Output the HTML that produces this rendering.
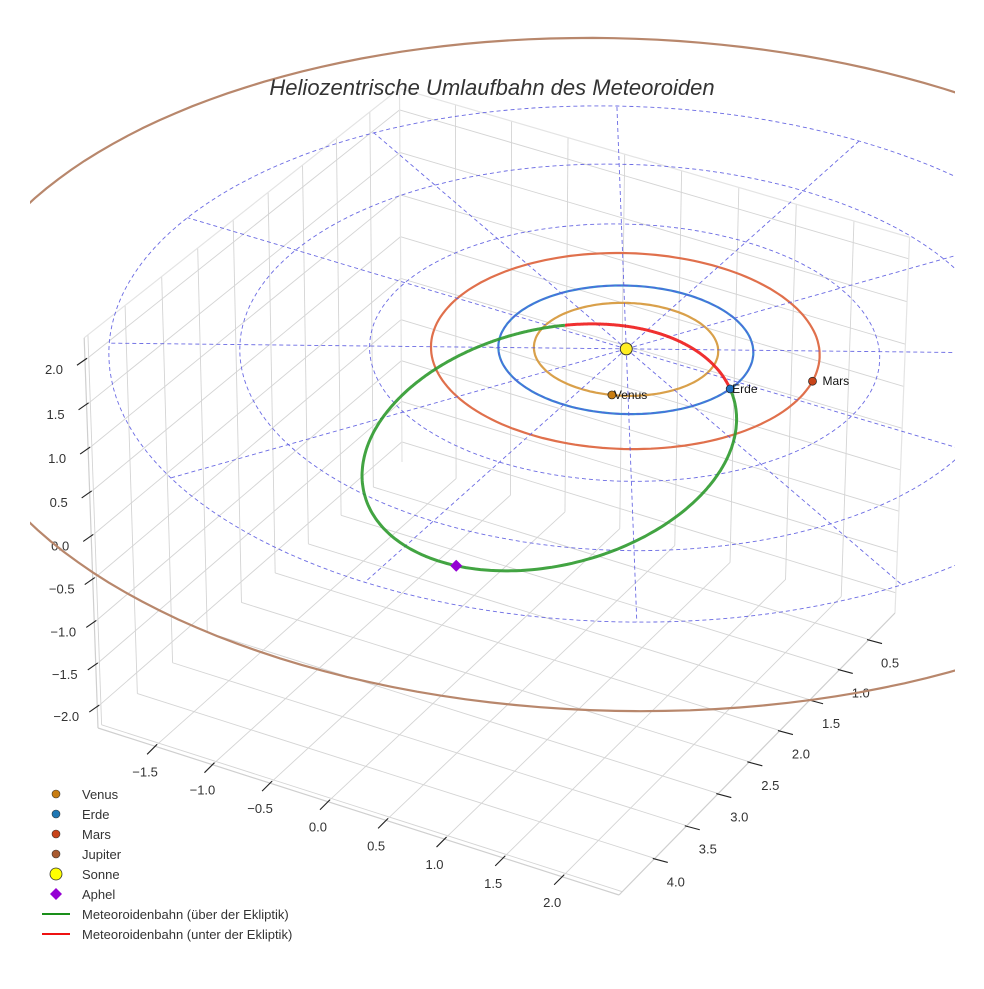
<!DOCTYPE html>
<html><head><meta charset="utf-8">
<style>
html,body{margin:0;padding:0;background:#fff;}
svg text{font-family:"Liberation Sans",sans-serif;}
</style></head>
<body>
<svg id="chart" width="984" height="984" viewBox="0 0 984 984" xmlns="http://www.w3.org/2000/svg">
<defs><clipPath id="clipArea"><rect x="30" y="-20" width="925" height="1004"/></clipPath></defs>
<rect width="984" height="984" fill="#fff"/>
<g id="panes"></g>
<g id="ticks"></g>
<g clip-path="url(#clipArea)"><g id="plot" transform="translate(1,7)"></g></g>
<text x="492" y="95" text-anchor="middle" font-size="22" font-style="italic" fill="#333">Heliozentrische Umlaufbahn des Meteoroiden</text>
<g id="legend"></g>
</svg>
<script>
// ---- data ----
const xTicks = [-1.5,-1.0,-0.5,0.0,0.5,1.0,1.5,2.0];
const yTicks = [0.5,1.0,1.5,2.0,2.5,3.0,3.5,4.0];
const zTicks = [-2.0,-1.5,-1.0,-0.5,0.0,0.5,1.0,1.5,2.0];
const xLim = [-2.0, 2.48];
const yLim = [0.05, 4.55];
const zLim = [-2.25, 2.25];
const planetNames = ['Venus','Erde','Mars','Jupiter'];
const orbitRadii = [0.723, 1.0, 1.524, 5.203];
const planetAnglesDeg = [70, 7, -12];
const gridRadii = [1,2,3,4];
const radialAnglesDeg = [0,30,60,90,120,150,180,210,240,270,300,330];
const meteorQ = [0.41];      // perihelion distance (AU)
const meteorE = [0.82];      // eccentricity
const meteorI = [8];         // inclination (deg)
const meteorNode = [7];      // longitude of ascending node (deg)
const meteorOmega = [-108];  // argument of perihelion (deg)

// ---- projection (fitted perspective) ----
const NS='http://www.w3.org/2000/svg';
function solve(A,b){const n=b.length;const M=A.map((r,i)=>r.concat([b[i]]));
for(let c=0;c<n;c++){let p=c;for(let r=c+1;r<n;r++)if(Math.abs(M[r][c])>Math.abs(M[p][c]))p=r;[M[c],M[p]]=[M[p],M[c]];
for(let r=0;r<n;r++){if(r===c)continue;const f=M[r][c]/M[c][c];for(let k=c;k<=n;k++)M[r][k]-=f*M[c][k];}}
return M.map((r,i)=>r[n]/r[i]);}
const floorW=[[xLim[0],yLim[0]],[xLim[1],yLim[0]],[xLim[1],yLim[1]],[xLim[0],yLim[1]]];
const floorS=[[402,462],[895,613],[619,895],[98,728]];
const A=[],bb=[];
for(let i=0;i<4;i++){const [x,y]=floorW[i],[X,Y]=floorS[i];
A.push([x,y,1,0,0,0,-X*x,-X*y]);bb.push(X);A.push([0,0,0,x,y,1,-Y*x,-Y*y]);bb.push(Y);}
const H=solve(A,bb);
const topW=[[xLim[0],yLim[0]],[xLim[1],yLim[0]],[xLim[0],yLim[1]]];
const topS=[[401,105],[912,225],[80,333]];
const dzT=zLim[1]-zLim[0];
let N=[[0,0,0],[0,0,0],[0,0,0]],Nb=[0,0,0];
function addRow(r,v){for(let i=0;i<3;i++){Nb[i]+=r[i]*v;for(let j=0;j<3;j++)N[i][j]+=r[i]*r[j];}}
for(let i=0;i<3;i++){const [x,y]=topW[i],[X,Y]=topS[i];
const h1=H[0]*x+H[1]*y+H[2],h2=H[3]*x+H[4]*y+H[5],w=H[6]*x+H[7]*y+1;
addRow([dzT,0,-X*dzT],X*w-h1);addRow([0,dzT,-Y*dzT],Y*w-h2);}
const C=solve(N,Nb);
function P(x,y,z){const dz=z-zLim[0];
const w=H[6]*x+H[7]*y+1+C[2]*dz;
return [(H[0]*x+H[1]*y+H[2]+C[0]*dz)/w,(H[3]*x+H[4]*y+H[5]+C[1]*dz)/w];}

function el(tag,attrs,parent){const e=document.createElementNS(NS,tag);for(const k in attrs)e.setAttribute(k,attrs[k]);parent.appendChild(e);return e;}
function line3(a,b,attrs,parent){const p=P(...a),q=P(...b);return el('line',Object.assign({x1:p[0],y1:p[1],x2:q[0],y2:q[1]},attrs),parent);}
function path3(pts,attrs,parent){const d=pts.map((p,i)=>{const s=P(...p);return (i?'L':'M')+s[0].toFixed(1)+','+s[1].toFixed(1);}).join('');return el('path',Object.assign({d:d,fill:'none'},attrs),parent);}

const panes=document.getElementById('panes'),ticks=document.getElementById('ticks'),plot=document.getElementById('plot'),legend=document.getElementById('legend');
const gridStyle={stroke:'#d4d4d4','stroke-width':0.9};
xTicks.forEach(x=>{const g=line3([x,yLim[0],zLim[0]],[x,yLim[1],zLim[0]],gridStyle,panes);

});
yTicks.concat([4.5]).forEach(y=>{const g=line3([xLim[0],y,zLim[0]],[xLim[1],y,zLim[0]],gridStyle,panes);

});
yTicks.concat([4.5]).forEach(y=>{const g=line3([xLim[0],y,zLim[0]],[xLim[0],y,zLim[1]],gridStyle,panes);

});
zTicks.forEach(z=>{const g=line3([xLim[0],yLim[0],z],[xLim[0],yLim[1],z],gridStyle,panes);

});
xTicks.forEach(x=>{const g=line3([x,yLim[0],zLim[0]],[x,yLim[0],zLim[1]],gridStyle,panes);

});
zTicks.forEach(z=>{const g=line3([xLim[0],yLim[0],z],[xLim[1],yLim[0],z],gridStyle,panes);

});
const edgeStyle={stroke:'#e4e4e4','stroke-width':1.2};
[[[xLim[0],yLim[0],zLim[0]],[xLim[0],yLim[0],zLim[1]]],
 [[xLim[0],yLim[1],zLim[1]],[xLim[0],yLim[0],zLim[1]]],
 [[xLim[0],yLim[0],zLim[1]],[xLim[1],yLim[0],zLim[1]]],
 [[xLim[1],yLim[0],zLim[0]],[xLim[1],yLim[0],zLim[1]]]].forEach(s=>{const g=line3(s[0],s[1],edgeStyle,panes);

});
const axStyle={stroke:'#cfcfcf','stroke-width':1.2};
[[[xLim[0],yLim[1],zLim[0]],[xLim[1],yLim[1],zLim[0]]],
 [[xLim[1],yLim[1],zLim[0]],[xLim[1],yLim[0],zLim[0]]],
 [[xLim[0],yLim[1],zLim[0]],[xLim[0],yLim[1],zLim[1]]]].forEach(s=>{const g=line3(s[0],s[1],axStyle,ticks);

});
const tickStyle={stroke:'#222','stroke-width':1.1};
const lblStyle={'font-size':13,fill:'#333','text-anchor':'middle'};
function fmt(v){return (v<0?'\u2212':'')+Math.abs(v).toFixed(1);}
xTicks.forEach(x=>{const p=P(x,yLim[1],zLim[0]);
const t=el('line',Object.assign({x1:p[0]+2,y1:p[1]-2,x2:p[0]-8,y2:p[1]+8},tickStyle),ticks);


const l=el('text',Object.assign({x:p[0]-10,y:p[1]+30},lblStyle),ticks);l.textContent=fmt(x);

});
yTicks.forEach(y=>{const p=P(xLim[1],y,zLim[0]);
const t=el('line',Object.assign({x1:p[0]-2,y1:p[1],x2:p[0]+13,y2:p[1]+4},tickStyle),ticks);


const l=el('text',Object.assign({x:p[0]+21,y:p[1]+28},lblStyle),ticks);l.textContent=fmt(y);

});
zTicks.forEach(z=>{const p=P(xLim[0],yLim[1],z);
const t=el('line',Object.assign({x1:p[0]+2,y1:p[1]-2,x2:p[0]-8,y2:p[1]+5},tickStyle),ticks);


const l=el('text',Object.assign({x:p[0]-31,y:p[1]+14},lblStyle),ticks);l.textContent=fmt(z);

});

// ---- plot content ----
function circlePts(r){const a=[];for(let k=0;k<=360;k+=2){const t=k*Math.PI/180;a.push([r*Math.cos(t),r*Math.sin(t),0]);}return a;}
const dashStyle={stroke:'#5a5ae0','stroke-width':0.9,'stroke-dasharray':'4,3',opacity:0.9};
const orbitColors=['#d9a04a','#3a86d4','#e0704c','#b8876c'];
orbitRadii.forEach((r,i)=>{const g=path3(circlePts(r),{stroke:orbitColors[i],'stroke-width':2.2},plot);

});
gridRadii.forEach(r=>{const g=path3(circlePts(r),dashStyle,plot);

});
radialAnglesDeg.forEach(a=>{const t=a*Math.PI/180,R=gridRadii[gridRadii.length-1];
const g=line3([0,0,0],[R*Math.cos(t),R*Math.sin(t),0],dashStyle,plot);

});
const q=meteorQ[0],e=meteorE[0],inc=meteorI[0]*Math.PI/180,Om=meteorNode[0]*Math.PI/180,om=meteorOmega[0]*Math.PI/180;
const pp=q*(1+e);
function meteor(nu){const r=pp/(1+e*Math.cos(nu)),u=om+nu;
return [r*(Math.cos(Om)*Math.cos(u)-Math.sin(Om)*Math.sin(u)*Math.cos(inc)),
r*(Math.sin(Om)*Math.cos(u)+Math.cos(Om)*Math.sin(u)*Math.cos(inc)),
r*Math.sin(u)*Math.sin(inc)];}
let segs=[],cur=null,curSign=null;
for(let k=0;k<=720;k++){const nu=-Math.PI+k*Math.PI/360;const pt=meteor(nu);const s=pt[2]>=0;
if(curSign===null||s!==curSign){if(cur)cur.pts.push(pt);cur={above:s,pts:[pt]};segs.push(cur);curSign=s;}else cur.pts.push(pt);}
segs.forEach(sg=>{const g=path3(sg.pts,{stroke:sg.above?'#2e9a2e':'#ee1a1a','stroke-width':3,opacity:0.9,'stroke-linejoin':'round'},plot);

});
const planetColors=['#c87d12','#1f6fc0','#c8441a'];
planetAnglesDeg.forEach((a,i)=>{const t=a*Math.PI/180,r=orbitRadii[i];const p=P(r*Math.cos(t),r*Math.sin(t),0);
const c=el('circle',{cx:p[0],cy:p[1],r:4,fill:planetColors[i],stroke:'#222','stroke-width':0.7},plot);


const l=el('text',{x:p[0]+(i===2?10:2),y:p[1]+4,'font-size':12,fill:'#111'},plot);l.textContent=planetNames[i];

});
const sp=P(0,0,0);
const sun=el('circle',{cx:sp[0],cy:sp[1],r:6,fill:'#ffee22',stroke:'#333','stroke-width':1},plot);


const ap=P(...meteor(Math.PI));
const am=el('path',{d:`M${ap[0]},${ap[1]-6}L${ap[0]+6},${ap[1]}L${ap[0]},${ap[1]+6}L${ap[0]-6},${ap[1]}Z`,fill:'#9400d3'},plot);



// ---- legend ----
const legendItems=[['Venus','dot','#c87d12'],['Erde','dot','#1f77b4'],['Mars','dot','#c8441a'],['Jupiter','dot','#a85a30'],['Sonne','sun','#ffff00'],['Aphel','diamond','#9400d3'],['Meteoroidenbahn (über der Ekliptik)','line','#1a8f1a'],['Meteoroidenbahn (unter der Ekliptik)','line','#ee1111']];
legendItems.forEach((it,i)=>{const y=794+i*20;const g=el('g',{},legend);


if(it[1]==='dot')el('circle',{cx:56,cy:y,r:4,fill:it[2],stroke:'#333','stroke-width':0.6},g);
else if(it[1]==='sun')el('circle',{cx:56,cy:y,r:6,fill:it[2],stroke:'#333','stroke-width':0.8},g);
else if(it[1]==='diamond')el('path',{d:`M56,${y-6}L62,${y}L56,${y+6}L50,${y}Z`,fill:it[2]},g);
else el('line',{x1:42,y1:y,x2:70,y2:y,stroke:it[2],'stroke-width':2},g);
const t=el('text',{x:82,y:y+5,'font-size':13,fill:'#333'},g);t.textContent=it[0];});
</script>
</body></html>
